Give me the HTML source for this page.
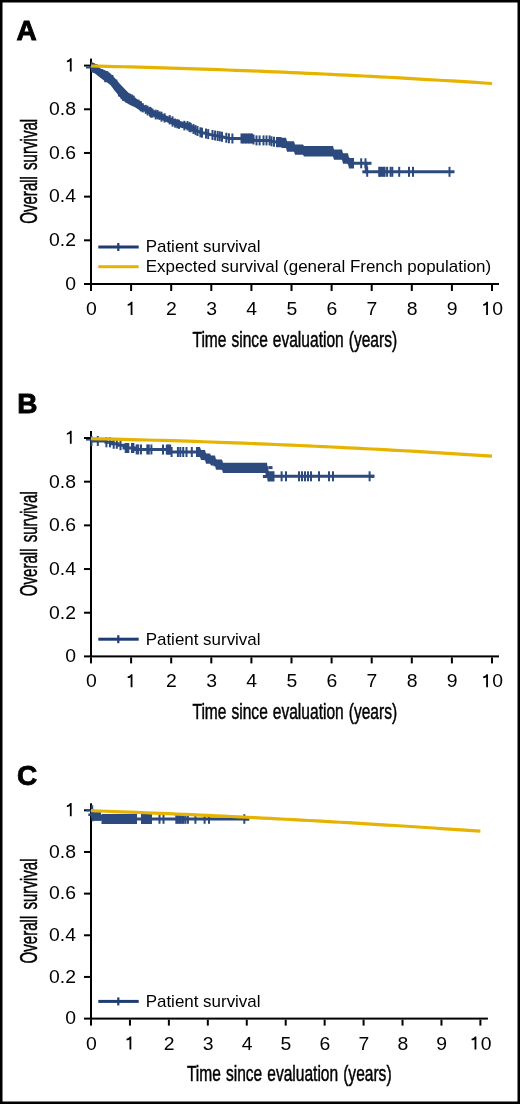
<!DOCTYPE html><html><head><meta charset="utf-8"><style>html,body{margin:0;padding:0;background:#fff;overflow:hidden}svg{display:block}text{filter:grayscale(1)}text{font-family:"Liberation Sans",sans-serif;fill:#000}.t{stroke:#000;stroke-width:0.5px}</style></head><body>
<svg width="520" height="1104" viewBox="0 0 520 1104">
<rect x="0" y="0" width="520" height="1104" fill="#000"/>
<rect x="2.5" y="2.5" width="515" height="1099" fill="#fff"/>
<text x="16.6" y="40.1" font-size="28" font-weight="bold" stroke="#000" stroke-width="0.9">A</text>
<rect x="90" y="58.599999999999994" width="2" height="226.4"/>
<rect x="90" y="283.0" width="409.0" height="2"/>
<rect x="84" y="283.00" width="6" height="2"/>
<text transform="translate(65.21 289.85) scale(1.06 1)" font-size="18.3">0</text>
<rect x="84" y="239.32" width="6" height="2"/>
<text transform="translate(49.04 246.17) scale(1.06 1)" font-size="18.3">0</text>
<text transform="translate(59.82 246.17) scale(1.06 1)" font-size="18.3">.</text>
<text transform="translate(65.21 246.17) scale(1.06 1)" font-size="18.3">2</text>
<rect x="84" y="195.64" width="6" height="2"/>
<text transform="translate(49.04 202.49) scale(1.06 1)" font-size="18.3">0</text>
<text transform="translate(59.82 202.49) scale(1.06 1)" font-size="18.3">.</text>
<text transform="translate(65.21 202.49) scale(1.06 1)" font-size="18.3">4</text>
<rect x="84" y="151.96" width="6" height="2"/>
<text transform="translate(49.04 158.81) scale(1.06 1)" font-size="18.3">0</text>
<text transform="translate(59.82 158.81) scale(1.06 1)" font-size="18.3">.</text>
<text transform="translate(65.21 158.81) scale(1.06 1)" font-size="18.3">6</text>
<rect x="84" y="108.28" width="6" height="2"/>
<text transform="translate(49.04 115.13) scale(1.06 1)" font-size="18.3">0</text>
<text transform="translate(59.82 115.13) scale(1.06 1)" font-size="18.3">.</text>
<text transform="translate(65.21 115.13) scale(1.06 1)" font-size="18.3">8</text>
<rect x="84" y="64.60" width="6" height="2"/>
<path d="M69.86 71.45H71.66V58.35H70.31Q69.26 60.25 66.86 60.75V62.25Q68.76 62.15 69.86 61.35Z"/>
<rect x="90.00" y="285.0" width="2" height="6"/>
<text transform="translate(85.91 314.90) scale(1.06 1)" font-size="18.3">0</text>
<rect x="130.10" y="285.0" width="2" height="6"/>
<path d="M130.66 314.90H132.46V301.80H131.11Q130.06 303.70 127.66 304.20V305.70Q129.56 305.60 130.66 304.80Z"/>
<rect x="170.20" y="285.0" width="2" height="6"/>
<text transform="translate(166.11 314.90) scale(1.06 1)" font-size="18.3">2</text>
<rect x="210.30" y="285.0" width="2" height="6"/>
<text transform="translate(206.21 314.90) scale(1.06 1)" font-size="18.3">3</text>
<rect x="250.40" y="285.0" width="2" height="6"/>
<text transform="translate(246.31 314.90) scale(1.06 1)" font-size="18.3">4</text>
<rect x="290.50" y="285.0" width="2" height="6"/>
<text transform="translate(286.41 314.90) scale(1.06 1)" font-size="18.3">5</text>
<rect x="330.60" y="285.0" width="2" height="6"/>
<text transform="translate(326.51 314.90) scale(1.06 1)" font-size="18.3">6</text>
<rect x="370.70" y="285.0" width="2" height="6"/>
<text transform="translate(366.61 314.90) scale(1.06 1)" font-size="18.3">7</text>
<rect x="410.80" y="285.0" width="2" height="6"/>
<text transform="translate(406.71 314.90) scale(1.06 1)" font-size="18.3">8</text>
<rect x="450.90" y="285.0" width="2" height="6"/>
<text transform="translate(446.81 314.90) scale(1.06 1)" font-size="18.3">9</text>
<rect x="491.00" y="285.0" width="2" height="6"/>
<path d="M486.16 314.90H487.96V301.80H486.61Q485.56 303.70 483.16 304.20V305.70Q485.06 305.60 486.16 304.80Z"/>
<text transform="translate(492.30 314.90) scale(1.06 1)" font-size="18.3">0</text>
<text class="t" transform="translate(294.80 346.60) scale(0.692 1)" text-anchor="middle" font-size="22.5" word-spacing="1">Time since evaluation (years)</text>
<text class="t" transform="translate(37.0 171.30) rotate(-90) scale(0.642 1)" text-anchor="middle" font-size="23.5" word-spacing="3">Overall survival</text>
<rect x="98.3" y="245.5" width="40.4" height="3" fill="#1f3d74"/>
<rect x="117.2" y="243.0" width="2.2" height="8" fill="#1f3d74"/>
<text transform="translate(145.7 252.2) scale(0.985 1)" font-size="17.2">Patient survival</text>
<rect x="98.3" y="265.2" width="40.4" height="3" fill="#e5b300"/>
<text transform="translate(145.7 272.4) scale(0.985 1)" font-size="17.2">Expected survival (general French population)</text>
<polyline points="91.00,65.60 93.00,67.00 96.00,68.50 100.00,71.00 105.00,74.50 110.00,79.00 115.00,84.50 120.00,89.50 125.00,95.50 130.00,100.00 135.00,102.50 140.00,106.00 145.00,108.70 150.00,111.80 155.00,114.00 160.00,115.80 165.00,118.20 170.00,120.30 175.00,122.80 180.00,124.30 185.00,125.50 190.00,127.00 195.00,129.80 200.00,132.20 205.00,133.30 210.00,134.50 215.00,135.50 220.00,136.30 225.00,137.50 230.00,138.50 253.00,138.50 254.00,140.40 270.00,140.40 271.00,141.20 276.00,142.10 281.00,142.10 281.00,142.90 286.00,142.90 286.00,146.50 294.00,146.50 294.00,149.60 303.00,149.60 303.00,151.20 333.00,151.20 334.00,154.60 342.00,154.60 343.00,158.50 348.00,158.50 349.00,163.30 366.00,163.30 366.50,171.80 454.50,171.80" fill="none" stroke="#2c4a7e" stroke-width="3"/>
<path d="M91.00,61.80 L95.00,63.50 L100.00,68.20 L105.00,70.20 L110.00,73.00 L115.00,78.30 L120.00,84.00 L125.00,89.20 L130.00,94.20 L135.00,97.50 L140.00,101.30 L142.00,103.00 L142.00,111.50 L140.00,110.50 L135.00,107.30 L130.00,105.00 L125.00,102.00 L120.00,97.30 L115.00,91.00 L110.00,84.60 L105.00,81.20 L100.00,77.40 L95.00,73.50 L91.00,72.00Z" fill="#2c4a7e"/>
<path d="M142.00,103.88 L143.00,104.42 L144.00,104.96 L145.00,105.50 L146.00,106.12 L147.00,106.74 L148.00,107.36 L149.00,107.98 L150.00,108.60 L151.00,109.04 L152.00,109.48 L153.00,109.92 L154.00,110.36 L155.00,110.80 L156.00,111.16 L157.00,111.52 L158.00,111.88 L159.00,112.24 L160.00,112.60 L161.00,113.08 L162.00,113.56 L163.00,114.04 L164.00,114.52 L165.00,115.00 L166.00,115.42 L167.00,115.84 L168.00,116.26 L169.00,116.68 L170.00,117.10 L171.00,117.60 L172.00,118.10 L173.00,118.60 L174.00,119.10 L175.00,119.60 L176.00,119.90 L177.00,120.20 L178.00,120.50 L179.00,120.80 L180.00,121.10 L181.00,121.34 L182.00,121.58 L183.00,121.82 L184.00,122.06 L185.00,122.30 L186.00,122.60 L187.00,122.90 L188.00,123.20 L189.00,123.50 L190.00,123.80 L191.00,124.36 L192.00,124.92 L193.00,125.48 L194.00,126.04 L195.00,126.60 L196.00,127.08 L196.00,133.48 L195.00,133.00 L194.00,132.44 L193.00,131.88 L192.00,131.32 L191.00,130.76 L190.00,130.20 L189.00,129.90 L188.00,129.60 L187.00,129.30 L186.00,129.00 L185.00,128.70 L184.00,128.46 L183.00,128.22 L182.00,127.98 L181.00,127.74 L180.00,127.50 L179.00,127.20 L178.00,126.90 L177.00,126.60 L176.00,126.30 L175.00,126.00 L174.00,125.50 L173.00,125.00 L172.00,124.50 L171.00,124.00 L170.00,123.50 L169.00,123.08 L168.00,122.66 L167.00,122.24 L166.00,121.82 L165.00,121.40 L164.00,120.92 L163.00,120.44 L162.00,119.96 L161.00,119.48 L160.00,119.00 L159.00,118.64 L158.00,118.28 L157.00,117.92 L156.00,117.56 L155.00,117.20 L154.00,116.76 L153.00,116.32 L152.00,115.88 L151.00,115.44 L150.00,115.00 L149.00,114.38 L148.00,113.76 L147.00,113.14 L146.00,112.52 L145.00,111.90 L144.00,111.36 L143.00,110.82 L142.00,110.28Z" fill="#2c4a7e"/>
<rect x="192.50" y="123.96" width="2" height="10" fill="#2c4a7e"/>
<rect x="194.60" y="125.09" width="2" height="10" fill="#2c4a7e"/>
<rect x="196.50" y="126.00" width="2" height="10" fill="#2c4a7e"/>
<rect x="199.40" y="127.29" width="2" height="10" fill="#2c4a7e"/>
<rect x="201.00" y="127.64" width="2" height="10" fill="#2c4a7e"/>
<rect x="205.00" y="128.54" width="2" height="10" fill="#2c4a7e"/>
<rect x="207.20" y="129.07" width="2" height="10" fill="#2c4a7e"/>
<rect x="211.50" y="130.00" width="2" height="10" fill="#2c4a7e"/>
<rect x="214.10" y="130.52" width="2" height="10" fill="#2c4a7e"/>
<rect x="216.70" y="130.93" width="2" height="10" fill="#2c4a7e"/>
<rect x="218.80" y="131.27" width="2" height="10" fill="#2c4a7e"/>
<rect x="221.00" y="131.78" width="2" height="10" fill="#2c4a7e"/>
<rect x="225.30" y="132.76" width="2" height="10" fill="#2c4a7e"/>
<rect x="227.90" y="133.28" width="2" height="10" fill="#2c4a7e"/>
<rect x="231.40" y="133.50" width="2" height="10" fill="#2c4a7e"/>
<rect x="139.82" y="102.06" width="2" height="9.36" fill="#2c4a7e"/>
<rect x="141.82" y="103.21" width="2" height="9.21" fill="#2c4a7e"/>
<rect x="144.71" y="104.84" width="2" height="9.00" fill="#2c4a7e"/>
<rect x="146.59" y="105.60" width="2" height="9.90" fill="#2c4a7e"/>
<rect x="148.95" y="106.81" width="2" height="9.86" fill="#2c4a7e"/>
<rect x="150.08" y="107.60" width="2" height="10.05" fill="#2c4a7e"/>
<rect x="151.56" y="108.57" width="2" height="9.06" fill="#2c4a7e"/>
<rect x="154.62" y="109.65" width="2" height="9.75" fill="#2c4a7e"/>
<rect x="156.60" y="110.05" width="2" height="9.31" fill="#2c4a7e"/>
<rect x="158.55" y="111.36" width="2" height="8.55" fill="#2c4a7e"/>
<rect x="160.50" y="111.68" width="2" height="9.97" fill="#2c4a7e"/>
<rect x="163.59" y="113.26" width="2" height="9.30" fill="#2c4a7e"/>
<rect x="168.68" y="115.03" width="2" height="9.43" fill="#2c4a7e"/>
<rect x="171.53" y="116.31" width="2" height="10.33" fill="#2c4a7e"/>
<rect x="174.11" y="118.54" width="2" height="9.10" fill="#2c4a7e"/>
<rect x="176.26" y="119.09" width="2" height="9.17" fill="#2c4a7e"/>
<rect x="177.96" y="119.70" width="2" height="9.16" fill="#2c4a7e"/>
<rect x="183.38" y="120.77" width="2" height="9.61" fill="#2c4a7e"/>
<rect x="186.50" y="121.09" width="2" height="9.44" fill="#2c4a7e"/>
<rect x="188.44" y="122.06" width="2" height="9.77" fill="#2c4a7e"/>
<rect x="189.73" y="122.84" width="2" height="9.47" fill="#2c4a7e"/>
<rect x="91.00" y="68.86" width="2" height="3" fill="#2c4a7e"/>
<rect x="93.27" y="69.08" width="2" height="3" fill="#2c4a7e"/>
<rect x="95.69" y="64.17" width="2" height="3" fill="#2c4a7e"/>
<rect x="97.31" y="72.19" width="2" height="3" fill="#2c4a7e"/>
<rect x="99.31" y="69.21" width="2" height="3" fill="#2c4a7e"/>
<rect x="100.97" y="69.11" width="2" height="3" fill="#2c4a7e"/>
<rect x="104.24" y="79.23" width="2" height="3" fill="#2c4a7e"/>
<rect x="106.29" y="71.15" width="2" height="3" fill="#2c4a7e"/>
<rect x="109.56" y="81.48" width="2" height="3" fill="#2c4a7e"/>
<rect x="111.41" y="74.92" width="2" height="3" fill="#2c4a7e"/>
<rect x="113.88" y="87.28" width="2" height="3" fill="#2c4a7e"/>
<rect x="115.39" y="79.57" width="2" height="3" fill="#2c4a7e"/>
<rect x="118.02" y="93.53" width="2" height="3" fill="#2c4a7e"/>
<rect x="120.56" y="96.19" width="2" height="3" fill="#2c4a7e"/>
<rect x="122.16" y="97.95" width="2" height="3" fill="#2c4a7e"/>
<rect x="125.41" y="99.59" width="2" height="3" fill="#2c4a7e"/>
<rect x="127.71" y="93.23" width="2" height="3" fill="#2c4a7e"/>
<rect x="129.33" y="93.72" width="2" height="3" fill="#2c4a7e"/>
<rect x="131.16" y="94.55" width="2" height="3" fill="#2c4a7e"/>
<rect x="132.66" y="95.66" width="2" height="3" fill="#2c4a7e"/>
<rect x="134.89" y="99.07" width="2" height="3" fill="#2c4a7e"/>
<rect x="137.62" y="99.65" width="2" height="3" fill="#2c4a7e"/>
<rect x="139.81" y="101.08" width="2" height="3" fill="#2c4a7e"/>
<rect x="243.50" y="133.50" width="2" height="10" fill="#2c4a7e"/>
<rect x="245.00" y="133.50" width="2" height="10" fill="#2c4a7e"/>
<rect x="246.50" y="133.50" width="2" height="10" fill="#2c4a7e"/>
<rect x="248.00" y="133.50" width="2" height="10" fill="#2c4a7e"/>
<rect x="249.50" y="133.50" width="2" height="10" fill="#2c4a7e"/>
<rect x="251.00" y="133.50" width="2" height="10" fill="#2c4a7e"/>
<path d="M276.00,136.90 L277.00,136.90 L278.00,136.90 L279.00,136.90 L280.00,136.90 L281.00,136.90 L282.00,137.70 L283.00,137.70 L284.00,137.70 L285.00,137.70 L286.00,137.70 L287.00,141.30 L288.00,141.30 L289.00,141.30 L290.00,141.30 L291.00,141.30 L292.00,141.30 L293.00,141.30 L294.00,141.30 L295.00,144.40 L296.00,144.40 L297.00,144.40 L298.00,144.40 L299.00,144.40 L300.00,144.40 L301.00,144.40 L302.00,144.40 L303.00,144.40 L304.00,146.00 L305.00,146.00 L306.00,146.00 L307.00,146.00 L308.00,146.00 L309.00,146.00 L310.00,146.00 L311.00,146.00 L312.00,146.00 L313.00,146.00 L314.00,146.00 L315.00,146.00 L316.00,146.00 L317.00,146.00 L318.00,146.00 L319.00,146.00 L320.00,146.00 L321.00,146.00 L322.00,146.00 L323.00,146.00 L324.00,146.00 L325.00,146.00 L326.00,146.00 L327.00,146.00 L328.00,146.00 L329.00,146.00 L330.00,146.00 L331.00,146.00 L332.00,146.00 L333.00,146.00 L334.00,149.40 L335.00,149.40 L336.00,149.40 L337.00,149.40 L338.00,149.40 L339.00,149.40 L340.00,149.40 L341.00,149.40 L342.00,149.40 L343.00,153.30 L344.00,153.30 L345.00,153.30 L346.00,153.30 L347.00,153.30 L348.00,153.30 L349.00,158.10 L350.00,158.10 L351.00,158.10 L352.00,158.10 L353.00,158.10 L354.00,158.10 L354.00,168.50 L353.00,168.50 L352.00,168.50 L351.00,168.50 L350.00,168.50 L349.00,168.50 L348.00,163.70 L347.00,163.70 L346.00,163.70 L345.00,163.70 L344.00,163.70 L343.00,163.70 L342.00,159.80 L341.00,159.80 L340.00,159.80 L339.00,159.80 L338.00,159.80 L337.00,159.80 L336.00,159.80 L335.00,159.80 L334.00,159.80 L333.00,156.40 L332.00,156.40 L331.00,156.40 L330.00,156.40 L329.00,156.40 L328.00,156.40 L327.00,156.40 L326.00,156.40 L325.00,156.40 L324.00,156.40 L323.00,156.40 L322.00,156.40 L321.00,156.40 L320.00,156.40 L319.00,156.40 L318.00,156.40 L317.00,156.40 L316.00,156.40 L315.00,156.40 L314.00,156.40 L313.00,156.40 L312.00,156.40 L311.00,156.40 L310.00,156.40 L309.00,156.40 L308.00,156.40 L307.00,156.40 L306.00,156.40 L305.00,156.40 L304.00,156.40 L303.00,154.80 L302.00,154.80 L301.00,154.80 L300.00,154.80 L299.00,154.80 L298.00,154.80 L297.00,154.80 L296.00,154.80 L295.00,154.80 L294.00,151.70 L293.00,151.70 L292.00,151.70 L291.00,151.70 L290.00,151.70 L289.00,151.70 L288.00,151.70 L287.00,151.70 L286.00,148.10 L285.00,148.10 L284.00,148.10 L283.00,148.10 L282.00,148.10 L281.00,147.30 L280.00,147.30 L279.00,147.30 L278.00,147.30 L277.00,147.30 L276.00,147.30Z" fill="#2c4a7e"/>
<rect x="240.50" y="133.50" width="2" height="10" fill="#2c4a7e"/>
<rect x="242.00" y="133.50" width="2" height="10" fill="#2c4a7e"/>
<rect x="252.50" y="134.45" width="2" height="10" fill="#2c4a7e"/>
<rect x="255.50" y="135.40" width="2" height="10" fill="#2c4a7e"/>
<rect x="258.60" y="135.40" width="2" height="10" fill="#2c4a7e"/>
<rect x="262.50" y="135.40" width="2" height="10" fill="#2c4a7e"/>
<rect x="265.50" y="135.40" width="2" height="10" fill="#2c4a7e"/>
<rect x="268.60" y="135.40" width="2" height="10" fill="#2c4a7e"/>
<rect x="270.50" y="136.29" width="2" height="10" fill="#2c4a7e"/>
<rect x="273.00" y="136.74" width="2" height="10" fill="#2c4a7e"/>
<rect x="360.20" y="158.30" width="2" height="10" fill="#2c4a7e"/>
<rect x="364.50" y="158.30" width="2" height="10" fill="#2c4a7e"/>
<rect x="366.20" y="166.80" width="2" height="10" fill="#2c4a7e"/>
<rect x="378.20" y="166.80" width="2" height="10" fill="#2c4a7e"/>
<rect x="383.60" y="166.80" width="2" height="10" fill="#2c4a7e"/>
<rect x="386.10" y="166.80" width="2" height="10" fill="#2c4a7e"/>
<rect x="389.60" y="166.80" width="2" height="10" fill="#2c4a7e"/>
<rect x="391.30" y="166.80" width="2" height="10" fill="#2c4a7e"/>
<rect x="398.20" y="166.80" width="2" height="10" fill="#2c4a7e"/>
<rect x="408.00" y="166.80" width="2" height="10" fill="#2c4a7e"/>
<rect x="412.00" y="166.80" width="2" height="10" fill="#2c4a7e"/>
<rect x="448.50" y="166.80" width="2" height="10" fill="#2c4a7e"/>
<path d="M379.20,166.80 L380.20,166.80 L381.20,166.80 L382.20,166.80 L383.20,166.80 L384.20,166.80 L384.60,166.80 L384.60,176.80 L384.20,176.80 L383.20,176.80 L382.20,176.80 L381.20,176.80 L380.20,176.80 L379.20,176.80Z" fill="#2c4a7e"/>
<rect x="366" y="161.8" width="5.5" height="3" fill="#2c4a7e"/>
<rect x="362.3" y="170.3" width="5" height="3" fill="#2c4a7e"/>
<rect x="86" y="66.5" width="5" height="2" fill="#2c4a7e"/>
<polyline points="91.00,66.00 99.02,66.18 107.04,66.36 115.06,66.56 123.08,66.76 131.10,66.96 139.12,67.18 147.14,67.40 155.16,67.63 163.18,67.86 171.20,68.10 179.22,68.35 187.24,68.61 195.26,68.87 203.28,69.14 211.30,69.42 219.32,69.70 227.34,69.99 235.36,70.29 243.38,70.59 251.40,70.90 259.42,71.22 267.44,71.55 275.46,71.88 283.48,72.22 291.50,72.57 299.52,72.92 307.54,73.28 315.56,73.65 323.58,74.02 331.60,74.40 339.62,74.79 347.64,75.19 355.66,75.59 363.68,76.00 371.70,76.42 379.72,76.84 387.74,77.27 395.76,77.71 403.78,78.15 411.80,78.60 419.82,79.06 427.84,79.53 435.86,80.00 443.88,80.48 451.90,80.96 459.92,81.46 467.94,81.96 475.96,82.46 483.98,82.98 492.00,83.50" fill="none" stroke="#e5b300" stroke-width="3.2"/>
<text x="17.2" y="412.6" font-size="28" font-weight="bold" stroke="#000" stroke-width="0.9">B</text>
<rect x="90" y="431.0" width="2" height="226.39999999999998"/>
<rect x="90" y="655.4" width="409.0" height="2"/>
<rect x="84" y="655.40" width="6" height="2"/>
<text transform="translate(65.21 662.25) scale(1.06 1)" font-size="18.3">0</text>
<rect x="84" y="611.72" width="6" height="2"/>
<text transform="translate(49.04 618.57) scale(1.06 1)" font-size="18.3">0</text>
<text transform="translate(59.82 618.57) scale(1.06 1)" font-size="18.3">.</text>
<text transform="translate(65.21 618.57) scale(1.06 1)" font-size="18.3">2</text>
<rect x="84" y="568.04" width="6" height="2"/>
<text transform="translate(49.04 574.89) scale(1.06 1)" font-size="18.3">0</text>
<text transform="translate(59.82 574.89) scale(1.06 1)" font-size="18.3">.</text>
<text transform="translate(65.21 574.89) scale(1.06 1)" font-size="18.3">4</text>
<rect x="84" y="524.36" width="6" height="2"/>
<text transform="translate(49.04 531.21) scale(1.06 1)" font-size="18.3">0</text>
<text transform="translate(59.82 531.21) scale(1.06 1)" font-size="18.3">.</text>
<text transform="translate(65.21 531.21) scale(1.06 1)" font-size="18.3">6</text>
<rect x="84" y="480.68" width="6" height="2"/>
<text transform="translate(49.04 487.53) scale(1.06 1)" font-size="18.3">0</text>
<text transform="translate(59.82 487.53) scale(1.06 1)" font-size="18.3">.</text>
<text transform="translate(65.21 487.53) scale(1.06 1)" font-size="18.3">8</text>
<rect x="84" y="437.00" width="6" height="2"/>
<path d="M69.86 443.85H71.66V430.75H70.31Q69.26 432.65 66.86 433.15V434.65Q68.76 434.55 69.86 433.75Z"/>
<rect x="90.00" y="657.4" width="2" height="6"/>
<text transform="translate(85.91 687.30) scale(1.06 1)" font-size="18.3">0</text>
<rect x="130.10" y="657.4" width="2" height="6"/>
<path d="M130.66 687.30H132.46V674.20H131.11Q130.06 676.10 127.66 676.60V678.10Q129.56 678.00 130.66 677.20Z"/>
<rect x="170.20" y="657.4" width="2" height="6"/>
<text transform="translate(166.11 687.30) scale(1.06 1)" font-size="18.3">2</text>
<rect x="210.30" y="657.4" width="2" height="6"/>
<text transform="translate(206.21 687.30) scale(1.06 1)" font-size="18.3">3</text>
<rect x="250.40" y="657.4" width="2" height="6"/>
<text transform="translate(246.31 687.30) scale(1.06 1)" font-size="18.3">4</text>
<rect x="290.50" y="657.4" width="2" height="6"/>
<text transform="translate(286.41 687.30) scale(1.06 1)" font-size="18.3">5</text>
<rect x="330.60" y="657.4" width="2" height="6"/>
<text transform="translate(326.51 687.30) scale(1.06 1)" font-size="18.3">6</text>
<rect x="370.70" y="657.4" width="2" height="6"/>
<text transform="translate(366.61 687.30) scale(1.06 1)" font-size="18.3">7</text>
<rect x="410.80" y="657.4" width="2" height="6"/>
<text transform="translate(406.71 687.30) scale(1.06 1)" font-size="18.3">8</text>
<rect x="450.90" y="657.4" width="2" height="6"/>
<text transform="translate(446.81 687.30) scale(1.06 1)" font-size="18.3">9</text>
<rect x="491.00" y="657.4" width="2" height="6"/>
<path d="M486.16 687.30H487.96V674.20H486.61Q485.56 676.10 483.16 676.60V678.10Q485.06 678.00 486.16 677.20Z"/>
<text transform="translate(492.30 687.30) scale(1.06 1)" font-size="18.3">0</text>
<text class="t" transform="translate(294.80 719.00) scale(0.692 1)" text-anchor="middle" font-size="22.5" word-spacing="1">Time since evaluation (years)</text>
<text class="t" transform="translate(37.0 543.70) rotate(-90) scale(0.642 1)" text-anchor="middle" font-size="23.5" word-spacing="3">Overall survival</text>
<rect x="98.3" y="637.6999999999999" width="40.4" height="3" fill="#1f3d74"/>
<rect x="117.2" y="635.1999999999999" width="2.2" height="8" fill="#1f3d74"/>
<text transform="translate(145.7 644.6) scale(0.985 1)" font-size="17.2">Patient survival</text>
<polyline points="91.00,441.00 106.00,441.00 106.00,442.30 112.00,442.30 112.00,443.80 118.00,443.80 118.00,445.20 124.00,445.20 124.00,448.00 135.00,448.00 135.00,449.40 170.30,449.60 170.50,452.00 200.00,452.00 200.00,455.00 205.00,455.00 205.00,458.70 210.00,458.70 210.00,460.50 215.00,460.50 215.00,464.70 222.00,464.70 222.00,467.80 267.00,467.80 267.00,476.30 374.30,476.30" fill="none" stroke="#2c4a7e" stroke-width="3"/>
<path d="M196.00,446.90 L197.00,446.90 L198.00,446.90 L199.00,446.90 L200.00,446.90 L201.00,449.90 L202.00,449.90 L203.00,449.90 L204.00,449.90 L205.00,449.90 L206.00,453.60 L207.00,453.60 L208.00,453.60 L209.00,453.60 L210.00,453.60 L211.00,455.40 L212.00,455.40 L213.00,455.40 L214.00,455.40 L215.00,455.40 L216.00,459.60 L217.00,459.60 L218.00,459.60 L219.00,459.60 L220.00,459.60 L221.00,459.60 L222.00,459.60 L223.00,462.70 L224.00,462.70 L225.00,462.70 L226.00,462.70 L227.00,462.70 L228.00,462.70 L229.00,462.70 L230.00,462.70 L231.00,462.70 L232.00,462.70 L233.00,462.70 L234.00,462.70 L235.00,462.70 L236.00,462.70 L237.00,462.70 L238.00,462.70 L239.00,462.70 L240.00,462.70 L241.00,462.70 L242.00,462.70 L243.00,462.70 L244.00,462.70 L245.00,462.70 L246.00,462.70 L247.00,462.70 L248.00,462.70 L249.00,462.70 L250.00,462.70 L251.00,462.70 L252.00,462.70 L253.00,462.70 L254.00,462.70 L255.00,462.70 L256.00,462.70 L257.00,462.70 L258.00,462.70 L259.00,462.70 L260.00,462.70 L261.00,462.70 L262.00,462.70 L263.00,462.70 L264.00,462.70 L265.00,462.70 L266.00,462.70 L267.00,462.70 L268.00,471.20 L268.50,471.20 L268.50,481.40 L268.00,481.40 L267.00,472.90 L266.00,472.90 L265.00,472.90 L264.00,472.90 L263.00,472.90 L262.00,472.90 L261.00,472.90 L260.00,472.90 L259.00,472.90 L258.00,472.90 L257.00,472.90 L256.00,472.90 L255.00,472.90 L254.00,472.90 L253.00,472.90 L252.00,472.90 L251.00,472.90 L250.00,472.90 L249.00,472.90 L248.00,472.90 L247.00,472.90 L246.00,472.90 L245.00,472.90 L244.00,472.90 L243.00,472.90 L242.00,472.90 L241.00,472.90 L240.00,472.90 L239.00,472.90 L238.00,472.90 L237.00,472.90 L236.00,472.90 L235.00,472.90 L234.00,472.90 L233.00,472.90 L232.00,472.90 L231.00,472.90 L230.00,472.90 L229.00,472.90 L228.00,472.90 L227.00,472.90 L226.00,472.90 L225.00,472.90 L224.00,472.90 L223.00,472.90 L222.00,469.80 L221.00,469.80 L220.00,469.80 L219.00,469.80 L218.00,469.80 L217.00,469.80 L216.00,469.80 L215.00,465.60 L214.00,465.60 L213.00,465.60 L212.00,465.60 L211.00,465.60 L210.00,463.80 L209.00,463.80 L208.00,463.80 L207.00,463.80 L206.00,463.80 L205.00,460.10 L204.00,460.10 L203.00,460.10 L202.00,460.10 L201.00,460.10 L200.00,457.10 L199.00,457.10 L198.00,457.10 L197.00,457.10 L196.00,457.10Z" fill="#2c4a7e"/>
<path d="M266.70,462.70 L267.70,471.20 L268.70,471.20 L269.70,471.20 L270.70,471.20 L271.70,471.20 L272.70,471.20 L273.70,471.20 L274.50,471.20 L274.50,481.40 L273.70,481.40 L272.70,481.40 L271.70,481.40 L270.70,481.40 L269.70,481.40 L268.70,481.40 L267.70,481.40 L266.70,472.90Z" fill="#2c4a7e"/>
<rect x="90.50" y="436.00" width="2" height="10" fill="#2c4a7e"/>
<rect x="96.80" y="436.00" width="2" height="10" fill="#2c4a7e"/>
<rect x="105.40" y="437.30" width="2" height="10" fill="#2c4a7e"/>
<rect x="109.00" y="437.30" width="2" height="10" fill="#2c4a7e"/>
<rect x="112.70" y="438.80" width="2" height="10" fill="#2c4a7e"/>
<rect x="115.80" y="438.80" width="2" height="10" fill="#2c4a7e"/>
<rect x="119.50" y="440.20" width="2" height="10" fill="#2c4a7e"/>
<rect x="124.70" y="443.00" width="2" height="10" fill="#2c4a7e"/>
<rect x="126.00" y="443.00" width="2" height="10" fill="#2c4a7e"/>
<rect x="127.30" y="443.00" width="2" height="10" fill="#2c4a7e"/>
<rect x="131.00" y="443.00" width="2" height="10" fill="#2c4a7e"/>
<rect x="132.40" y="443.00" width="2" height="10" fill="#2c4a7e"/>
<rect x="135.70" y="444.41" width="2" height="10" fill="#2c4a7e"/>
<rect x="137.20" y="444.42" width="2" height="10" fill="#2c4a7e"/>
<rect x="140.00" y="444.43" width="2" height="10" fill="#2c4a7e"/>
<rect x="146.30" y="444.47" width="2" height="10" fill="#2c4a7e"/>
<rect x="147.80" y="444.48" width="2" height="10" fill="#2c4a7e"/>
<rect x="150.40" y="444.49" width="2" height="10" fill="#2c4a7e"/>
<rect x="162.00" y="444.56" width="2" height="10" fill="#2c4a7e"/>
<rect x="165.80" y="444.58" width="2" height="10" fill="#2c4a7e"/>
<rect x="167.00" y="444.59" width="2" height="10" fill="#2c4a7e"/>
<rect x="168.20" y="444.59" width="2" height="10" fill="#2c4a7e"/>
<rect x="169.20" y="444.60" width="2" height="10" fill="#2c4a7e"/>
<rect x="170.60" y="447.00" width="2" height="10" fill="#2c4a7e"/>
<rect x="176.90" y="447.00" width="2" height="10" fill="#2c4a7e"/>
<rect x="179.30" y="447.00" width="2" height="10" fill="#2c4a7e"/>
<rect x="182.20" y="447.00" width="2" height="10" fill="#2c4a7e"/>
<rect x="185.50" y="447.00" width="2" height="10" fill="#2c4a7e"/>
<rect x="190.80" y="447.00" width="2" height="10" fill="#2c4a7e"/>
<rect x="280.60" y="471.30" width="2" height="10" fill="#2c4a7e"/>
<rect x="285.00" y="471.30" width="2" height="10" fill="#2c4a7e"/>
<rect x="298.00" y="471.30" width="2" height="10" fill="#2c4a7e"/>
<rect x="301.00" y="471.30" width="2" height="10" fill="#2c4a7e"/>
<rect x="304.00" y="471.30" width="2" height="10" fill="#2c4a7e"/>
<rect x="307.00" y="471.30" width="2" height="10" fill="#2c4a7e"/>
<rect x="310.00" y="471.30" width="2" height="10" fill="#2c4a7e"/>
<rect x="318.00" y="471.30" width="2" height="10" fill="#2c4a7e"/>
<rect x="328.00" y="471.30" width="2" height="10" fill="#2c4a7e"/>
<rect x="332.00" y="471.30" width="2" height="10" fill="#2c4a7e"/>
<rect x="368.60" y="471.30" width="2" height="10" fill="#2c4a7e"/>
<rect x="268.5" y="466.1" width="4" height="3" fill="#2c4a7e"/>
<rect x="262.9" y="475.0" width="4" height="3" fill="#2c4a7e"/>
<rect x="369.6" y="474.8" width="4.7" height="3" fill="#2c4a7e"/>
<rect x="86" y="439" width="5" height="1.6" fill="#2c4a7e"/>
<polyline points="91.00,438.60 99.02,438.78 107.04,438.96 115.06,439.16 123.08,439.36 131.10,439.56 139.12,439.78 147.14,440.00 155.16,440.23 163.18,440.46 171.20,440.70 179.22,440.95 187.24,441.21 195.26,441.47 203.28,441.74 211.30,442.02 219.32,442.30 227.34,442.59 235.36,442.89 243.38,443.19 251.40,443.50 259.42,443.82 267.44,444.15 275.46,444.48 283.48,444.82 291.50,445.17 299.52,445.52 307.54,445.88 315.56,446.25 323.58,446.62 331.60,447.00 339.62,447.39 347.64,447.79 355.66,448.19 363.68,448.60 371.70,449.02 379.72,449.44 387.74,449.87 395.76,450.31 403.78,450.75 411.80,451.20 419.82,451.66 427.84,452.13 435.86,452.60 443.88,453.08 451.90,453.56 459.92,454.06 467.94,454.56 475.96,455.06 483.98,455.58 492.00,456.10" fill="none" stroke="#e5b300" stroke-width="3.2"/>
<text x="16.9" y="785" font-size="28" font-weight="bold" stroke="#000" stroke-width="0.9">C</text>
<rect x="90" y="803.3" width="2" height="216.30000000000007"/>
<rect x="90" y="1017.6" width="397.9" height="2"/>
<rect x="84" y="1017.60" width="6" height="2"/>
<text transform="translate(65.21 1024.45) scale(1.06 1)" font-size="18.3">0</text>
<rect x="84" y="975.94" width="6" height="2"/>
<text transform="translate(49.04 982.79) scale(1.06 1)" font-size="18.3">0</text>
<text transform="translate(59.82 982.79) scale(1.06 1)" font-size="18.3">.</text>
<text transform="translate(65.21 982.79) scale(1.06 1)" font-size="18.3">2</text>
<rect x="84" y="934.28" width="6" height="2"/>
<text transform="translate(49.04 941.13) scale(1.06 1)" font-size="18.3">0</text>
<text transform="translate(59.82 941.13) scale(1.06 1)" font-size="18.3">.</text>
<text transform="translate(65.21 941.13) scale(1.06 1)" font-size="18.3">4</text>
<rect x="84" y="892.62" width="6" height="2"/>
<text transform="translate(49.04 899.47) scale(1.06 1)" font-size="18.3">0</text>
<text transform="translate(59.82 899.47) scale(1.06 1)" font-size="18.3">.</text>
<text transform="translate(65.21 899.47) scale(1.06 1)" font-size="18.3">6</text>
<rect x="84" y="850.96" width="6" height="2"/>
<text transform="translate(49.04 857.81) scale(1.06 1)" font-size="18.3">0</text>
<text transform="translate(59.82 857.81) scale(1.06 1)" font-size="18.3">.</text>
<text transform="translate(65.21 857.81) scale(1.06 1)" font-size="18.3">8</text>
<rect x="84" y="809.30" width="6" height="2"/>
<path d="M69.86 816.15H71.66V803.05H70.31Q69.26 804.95 66.86 805.45V806.95Q68.76 806.85 69.86 806.05Z"/>
<rect x="90.00" y="1019.6" width="2" height="6"/>
<text transform="translate(85.91 1049.50) scale(1.06 1)" font-size="18.3">0</text>
<rect x="128.94" y="1019.6" width="2" height="6"/>
<path d="M129.50 1049.50H131.30V1036.40H129.95Q128.90 1038.30 126.50 1038.80V1040.30Q128.40 1040.20 129.50 1039.40Z"/>
<rect x="167.88" y="1019.6" width="2" height="6"/>
<text transform="translate(163.79 1049.50) scale(1.06 1)" font-size="18.3">2</text>
<rect x="206.82" y="1019.6" width="2" height="6"/>
<text transform="translate(202.73 1049.50) scale(1.06 1)" font-size="18.3">3</text>
<rect x="245.76" y="1019.6" width="2" height="6"/>
<text transform="translate(241.67 1049.50) scale(1.06 1)" font-size="18.3">4</text>
<rect x="284.70" y="1019.6" width="2" height="6"/>
<text transform="translate(280.61 1049.50) scale(1.06 1)" font-size="18.3">5</text>
<rect x="323.64" y="1019.6" width="2" height="6"/>
<text transform="translate(319.55 1049.50) scale(1.06 1)" font-size="18.3">6</text>
<rect x="362.58" y="1019.6" width="2" height="6"/>
<text transform="translate(358.49 1049.50) scale(1.06 1)" font-size="18.3">7</text>
<rect x="401.52" y="1019.6" width="2" height="6"/>
<text transform="translate(397.43 1049.50) scale(1.06 1)" font-size="18.3">8</text>
<rect x="440.46" y="1019.6" width="2" height="6"/>
<text transform="translate(436.37 1049.50) scale(1.06 1)" font-size="18.3">9</text>
<rect x="479.40" y="1019.6" width="2" height="6"/>
<path d="M474.56 1049.50H476.36V1036.40H475.01Q473.96 1038.30 471.56 1038.80V1040.30Q473.46 1040.20 474.56 1039.40Z"/>
<text transform="translate(480.70 1049.50) scale(1.06 1)" font-size="18.3">0</text>
<text class="t" transform="translate(289.25 1081.20) scale(0.692 1)" text-anchor="middle" font-size="22.5" word-spacing="1">Time since evaluation (years)</text>
<text class="t" transform="translate(37.0 910.95) rotate(-90) scale(0.642 1)" text-anchor="middle" font-size="23.5" word-spacing="3">Overall survival</text>
<rect x="98.3" y="999.9" width="40.4" height="3" fill="#1f3d74"/>
<rect x="117.2" y="997.4" width="2.2" height="8" fill="#1f3d74"/>
<text transform="translate(145.7 1006.8000000000001) scale(0.985 1)" font-size="17.2">Patient survival</text>
<polyline points="91.00,810.50 92.00,810.50 92.50,816.50 101.00,816.50 101.50,819.00 249.20,819.00" fill="none" stroke="#2c4a7e" stroke-width="3"/>
<path d="M92.50,812.10 L93.50,812.10 L94.50,812.10 L95.50,812.10 L96.50,812.10 L97.50,812.10 L98.50,812.10 L99.50,812.10 L100.50,812.10 L101.00,812.10 L101.00,820.90 L100.50,820.90 L99.50,820.90 L98.50,820.90 L97.50,820.90 L96.50,820.90 L95.50,820.90 L94.50,820.90 L93.50,820.90 L92.50,820.90Z" fill="#2c4a7e"/>
<path d="M101.50,814.00 L102.50,814.00 L103.50,814.00 L104.50,814.00 L105.50,814.00 L106.50,814.00 L107.50,814.00 L108.50,814.00 L109.50,814.00 L110.50,814.00 L111.50,814.00 L112.50,814.00 L113.50,814.00 L114.50,814.00 L115.50,814.00 L116.50,814.00 L117.50,814.00 L118.50,814.00 L119.50,814.00 L120.50,814.00 L121.50,814.00 L122.50,814.00 L123.50,814.00 L124.50,814.00 L125.50,814.00 L126.50,814.00 L127.50,814.00 L128.50,814.00 L129.50,814.00 L130.50,814.00 L131.50,814.00 L132.50,814.00 L133.50,814.00 L134.50,814.00 L135.50,814.00 L136.50,814.00 L137.00,814.00 L137.00,824.00 L136.50,824.00 L135.50,824.00 L134.50,824.00 L133.50,824.00 L132.50,824.00 L131.50,824.00 L130.50,824.00 L129.50,824.00 L128.50,824.00 L127.50,824.00 L126.50,824.00 L125.50,824.00 L124.50,824.00 L123.50,824.00 L122.50,824.00 L121.50,824.00 L120.50,824.00 L119.50,824.00 L118.50,824.00 L117.50,824.00 L116.50,824.00 L115.50,824.00 L114.50,824.00 L113.50,824.00 L112.50,824.00 L111.50,824.00 L110.50,824.00 L109.50,824.00 L108.50,824.00 L107.50,824.00 L106.50,824.00 L105.50,824.00 L104.50,824.00 L103.50,824.00 L102.50,824.00 L101.50,824.00Z" fill="#2c4a7e"/>
<path d="M141.00,814.00 L142.00,814.00 L143.00,814.00 L144.00,814.00 L145.00,814.00 L146.00,814.00 L147.00,814.00 L148.00,814.00 L149.00,814.00 L150.00,814.00 L151.00,814.00 L152.00,814.00 L152.00,824.00 L151.00,824.00 L150.00,824.00 L149.00,824.00 L148.00,824.00 L147.00,824.00 L146.00,824.00 L145.00,824.00 L144.00,824.00 L143.00,824.00 L142.00,824.00 L141.00,824.00Z" fill="#2c4a7e"/>
<rect x="91.50" y="811.70" width="2" height="9.6" fill="#2c4a7e"/>
<rect x="158.50" y="814.20" width="2" height="9.6" fill="#2c4a7e"/>
<rect x="162.50" y="814.20" width="2" height="9.6" fill="#2c4a7e"/>
<rect x="175.30" y="814.20" width="2" height="9.6" fill="#2c4a7e"/>
<rect x="176.80" y="814.20" width="2" height="9.6" fill="#2c4a7e"/>
<rect x="178.20" y="814.20" width="2" height="9.6" fill="#2c4a7e"/>
<rect x="179.70" y="814.20" width="2" height="9.6" fill="#2c4a7e"/>
<rect x="181.20" y="814.20" width="2" height="9.6" fill="#2c4a7e"/>
<rect x="182.60" y="814.20" width="2" height="9.6" fill="#2c4a7e"/>
<rect x="184.50" y="814.20" width="2" height="9.6" fill="#2c4a7e"/>
<rect x="186.90" y="814.20" width="2" height="9.6" fill="#2c4a7e"/>
<rect x="194.40" y="814.20" width="2" height="9.6" fill="#2c4a7e"/>
<rect x="203.60" y="814.20" width="2" height="9.6" fill="#2c4a7e"/>
<rect x="208.00" y="814.20" width="2" height="9.6" fill="#2c4a7e"/>
<rect x="243.30" y="814.20" width="2" height="9.6" fill="#2c4a7e"/>
<rect x="244.3" y="817.5" width="4.9" height="3" fill="#2c4a7e"/>
<rect x="86" y="809.8" width="5" height="1.6" fill="#2c4a7e"/>
<rect x="88.3" y="813.5" width="3" height="2.5" fill="#2c4a7e"/>
<rect x="91.2" y="805.2" width="2" height="6" fill="#2c4a7e"/>
<polyline points="91.00,810.70 98.79,810.98 106.58,811.26 114.36,811.55 122.15,811.84 129.94,812.14 137.73,812.44 145.52,812.75 153.30,813.07 161.09,813.39 168.88,813.71 176.67,814.04 184.46,814.38 192.24,814.72 200.03,815.07 207.82,815.42 215.61,815.78 223.40,816.14 231.18,816.51 238.97,816.89 246.76,817.27 254.55,817.65 262.34,818.04 270.12,818.44 277.91,818.84 285.70,819.25 293.49,819.66 301.28,820.08 309.06,820.50 316.85,820.93 324.64,821.37 332.43,821.81 340.22,822.25 348.00,822.70 355.79,823.16 363.58,823.62 371.37,824.09 379.16,824.56 386.94,825.04 394.73,825.52 402.52,826.01 410.31,826.51 418.10,827.01 425.88,827.51 433.67,828.02 441.46,828.54 449.25,829.06 457.04,829.59 464.82,830.12 472.61,830.66 480.40,831.20" fill="none" stroke="#e5b300" stroke-width="3.2"/>
</svg></body></html>
